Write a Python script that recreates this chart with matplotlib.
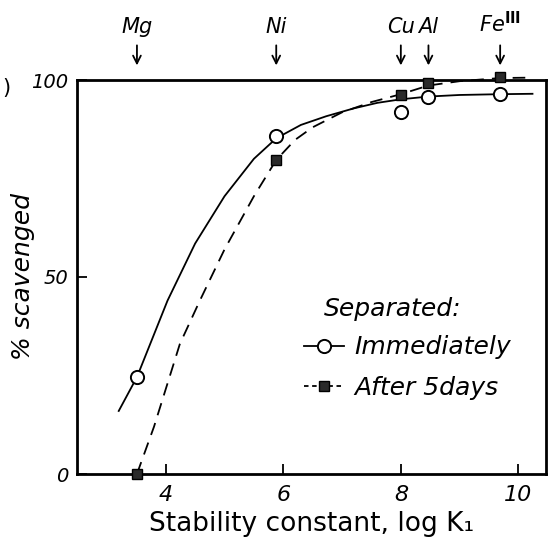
import matplotlib
matplotlib.use("Agg")
import matplotlib.pyplot as plt
from matplotlib.lines import Line2D

# Measured points
metals = ["Mg", "Ni", "Cu", "Al", r"Fe$^{\mathbf{III}}$"]
logk = [3.51, 5.88, 8.0, 8.47, 9.69]
immediately = [24.6, 85.8, 91.9, 95.7, 96.4]
after5 = [0.0, 79.7, 96.2, 99.2, 100.8]

# Hand-drawn fitted curves
curve_imm_x = [3.2, 3.51, 4.03, 4.5, 5.0, 5.5, 5.88, 6.3, 6.73, 7.2, 7.6, 8.0, 8.47, 9.0, 9.69, 10.24]
curve_imm_y = [16.0, 24.6, 44.0, 58.5, 70.5, 80.0, 85.2, 88.6, 90.8, 92.8, 94.2, 95.1, 95.8, 96.2, 96.4, 96.5]
curve_aft_x = [3.51, 3.8, 4.24, 4.58, 5.0, 5.5, 5.88, 6.2, 6.5, 7.0, 7.5, 8.0, 8.47, 9.0, 9.69, 10.22]
curve_aft_y = [0.0, 12.0, 33.0, 44.0, 57.0, 70.5, 79.7, 84.8, 88.0, 91.8, 94.4, 96.4, 98.6, 99.7, 100.5, 100.6]

xticks = [4, 6, 8, 10]
yticks = [0, 50, 100]
legend_title = "Separated:"
legend_labels = ["Immediately", "After 5days"]

plt.rcParams['font.family'] = ["DejaVu Sans"]

fig = plt.figure(figsize=(5.53, 5.40), dpi=100)
ax = fig.add_axes([77/553, 1-474/540, (546-77)/553, (474-80)/540])

ax.plot(curve_imm_x, curve_imm_y, color="black", lw=1.3, clip_on=False)
ax.plot(curve_aft_x, curve_aft_y, color="black", lw=1.3, ls=(0, (7, 4.5)), clip_on=False)
ax.plot(logk, immediately, ls="none", marker="o", ms=9.5, mfc="white", mec="black", mew=1.4, clip_on=False, zorder=5)
ax.plot(logk, after5, ls="none", marker="s", ms=7, mfc="#2a2a2a", mec="black", mew=1.0, clip_on=False, zorder=5)

ax.set_xlim(2.49, 10.47)
ax.set_ylim(0, 100)
for s in ax.spines.values():
    s.set_linewidth(2.0)
ax.set_xticks(xticks)
ax.set_yticks(yticks)
ax.set_xticklabels([str(t) for t in xticks], fontsize=16, style="italic")
ax.set_yticklabels([str(t) for t in yticks], fontsize=14, style="italic")
ax.tick_params(direction="in", length=7, width=1.3, pad=6)
ax.tick_params(axis="x", pad=8)

ax.set_xlabel("Stability constant, log K₁", fontsize=19)
ax.xaxis.set_label_coords(0.5, -0.095)
ax.set_ylabel("% scavenged", fontsize=18, style="italic")
ax.yaxis.set_label_coords(-0.09, 0.5)

# top labels with arrows
for name, xv in zip(metals, logk):
    ax.annotate("", xy=(xv, 103.0), xytext=(xv, 109.5), xycoords="data",
                arrowprops=dict(arrowstyle="->", color="black", lw=1.3, mutation_scale=14),
                annotation_clip=False)
    ax.text(xv, 111.0, name, ha="center", va="bottom", fontsize=15, style="italic")

fig.text(6/553, 1-88/540, ")", fontsize=15, ha="center", va="center")

ax.text(0.526, 0.42, legend_title, transform=ax.transAxes, fontsize=18,
        style="italic", ha="left", va="center")

handles = [
    Line2D([], [], color="black", lw=1.3, marker="o", ms=9.5, mfc="white", mec="black", mew=1.4),
    Line2D([], [], color="black", lw=1.3, ls=(0, (2.5, 2)), marker="s", ms=7, mfc="#2a2a2a", mec="black"),
]
leg = ax.legend(handles, legend_labels,
                loc="upper left", bbox_to_anchor=(0.483, 0.352), frameon=False,
                fontsize=18, handlelength=1.6, handletextpad=0.45,
                labelspacing=0.65, borderaxespad=0, borderpad=0)
for t in leg.get_texts():
    t.set_style("italic")

fig.savefig("out.png", dpi=100)
